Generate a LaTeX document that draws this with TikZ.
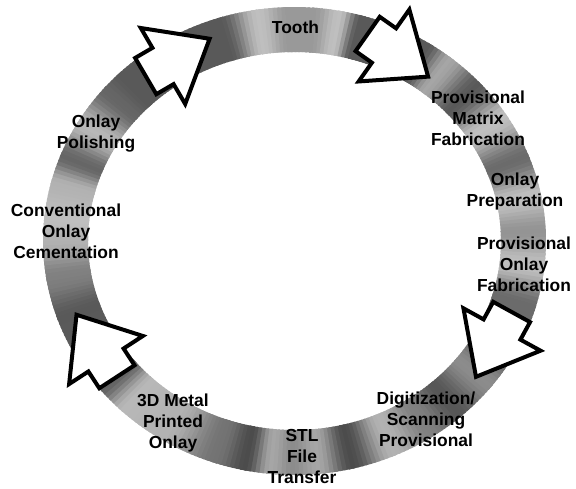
\documentclass[tikz,border=0pt]{standalone}
\usepackage{fontspec}
\setmainfont{Liberation Sans}
\usetikzlibrary{arrows}
\tikzset{
  lbl/.style={font=\bfseries\fontsize{17.4}{21}\selectfont, align=center, inner sep=0pt},
  blockarrow/.pic={\draw[fill=white, line width=4pt, line join=miter]
    (-20,21) -- (0,21) -- (0,44) -- (54,0) -- (0,-44) -- (0,-21) -- (-20,-21) -- cycle;}
}
\begin{document}
\begin{tikzpicture}[x=1pt,y=-1pt]
\useasboundingbox (0,0) rectangle (576,488);
\begin{scope}[shift={(294.5,241)}]
\foreach \tb/\gb [remember=\tb as \ta (initially -180), remember=\gb as \ga (initially 30)] in
  {-175/25,-166/30,-159/60,-150/28,-140/60,-135/65,-108/65,-99/25,-92/40,-86/40,-80/25,
   -75/65,-58/65,-52/35,-43/65,-33/25,-22/58,-12/25,-3/42,6/25,16/58,30/60,38/45,48/66,
   56/50,66/30,76/70,84/35,90/45,95/35,101/70,108/55,122/30,133/28,140/62,160/65,170/50,180/30}
  \foreach \t in {\ta,...,\tb} {
    \pgfmathsetmacro\g{\ga+(\gb-\ga)*(1-cos(180*(\t-\ta)/(\tb-\ta)))/2}
    \fill[black!\g] (\t:251.5 and 234) -- (\t+1.5:251.5 and 234)
      -- (\t+1.5:206.5 and 189) -- (\t:206.5 and 189) -- cycle;
  }
\end{scope}
\pic[rotate=30.3] at (163,66) {blockarrow};
\pic[rotate=-35.2] at (384,45.5) {blockarrow};
\pic[rotate=-118.8] at (502,329.5) {blockarrow};
\pic[rotate=123.1] at (106,360) {blockarrow};
\node[lbl] (tooth) at (295.5,27) {Tooth};
\node[lbl] (matrix) at (478,118.5) {Provisional\\Matrix\\Fabrication};
\node[lbl] (prep) at (515,191) {Onlay\\Preparation};
\node[lbl] (provonlay) at (524,264.5) {Provisional\\Onlay\\Fabrication};
\node[lbl] (digit) at (426,419) {Digitization/\\Scanning\\Provisional};
\node[lbl] (stl) at (302,457) {STL\\File\\Transfer};
\node[lbl] (metal) at (173,423) {3D Metal\\Printed\\Onlay};
\node[lbl] (cement) at (66,231) {Conventional\\Onlay\\Cementation};
\node[lbl] (polish) at (96,134) {Onlay\\Polishing};
\end{tikzpicture}
\end{document}
